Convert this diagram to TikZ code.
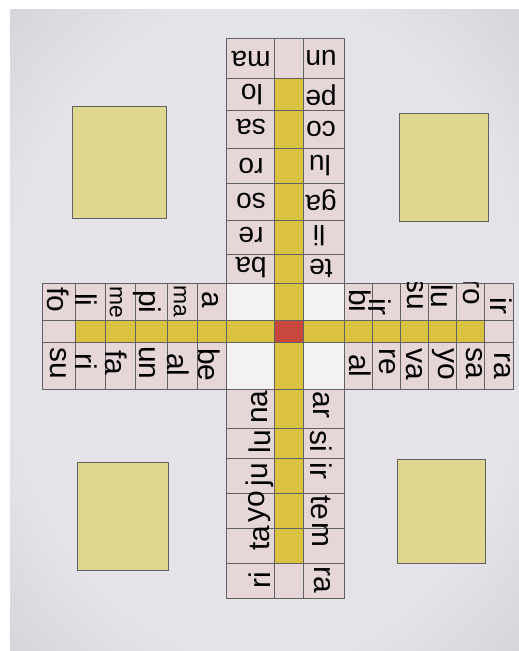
\documentclass[tikz,border=0pt]{standalone}
\usepackage{fontspec}
\setmainfont{Liberation Sans}
\definecolor{paperin}{RGB}{228,228,232}
\definecolor{paperout}{RGB}{192,192,196}
\definecolor{cellpink}{RGB}{231,214,216}
\definecolor{trackgold}{RGB}{218,194,64}
\definecolor{homeyellow}{RGB}{223,215,143}
\definecolor{startred}{RGB}{201,72,62}
\definecolor{blankcell}{RGB}{242,242,243}
\pgfdeclareradialshading{paperglow}{\pgfpoint{0bp}{0bp}}{color(0bp)=(paperin); color(26bp)=(paperin); color(50bp)=(paperout)}

\begin{document}
\begin{tikzpicture}[
				x=0.02cm, y=-0.02cm,
				font=\fontsize{17}{17}\selectfont,
				grid/.style={draw=black!62, line width=0.55pt},
				home/.style={grid, fill=homeyellow},
				syl/.style={inner sep=0pt},
				sylflip/.style={syl, rotate=180, font=\fontsize{16}{16}\selectfont},
				sylcw/.style={syl, rotate=-90},
				sylccw/.style={syl, rotate=90},
				sylsmall/.style={font=\fontsize{13}{13}\selectfont}
				]
				\useasboundingbox (0,0) rectangle (519,651);
				
				%--- paper -----------------------------------------------------------------
				\fill[white] (0,0) rectangle (519,651);
				\shade[shading=paperglow] (10,10) rectangle (519,651);
				
				%--- four home squares -----------------------------------------------------
				\draw[home] (72,106) rectangle (166,218);
				\draw[home] (399,113) rectangle (488,221);
				\draw[home] (77,462) rectangle (168,570);
				\draw[home] (397,459) rectangle (485,563);
				
				%--- fills of the cross ----------------------------------------------------
				\fill[cellpink] (226,38) rectangle (344,598);
				\fill[cellpink] (42,283) rectangle (513,389);
				\fill[blankcell] (226,283) rectangle (344,389);
				\fill[trackgold] (274,78) rectangle (303,563);
				\fill[trackgold] (75,320) rectangle (484,342);
				\fill[startred] (274,320) rectangle (303,342);
				
				%--- grid lines ------------------------------------------------------------
				\draw[grid] (226,38) rectangle (344,283)
				(274,38) -- (274,283) (303,38) -- (303,283)
				(226,78) -- (344,78) (226,110) -- (344,110) (226,148) -- (344,148)
				(226,183) -- (344,183) (226,220) -- (344,220) (226,254) -- (344,254);
				\draw[grid] (42,283) rectangle (513,389)
				(42,320) -- (513,320) (42,342) -- (513,342)
				(75,283) -- (75,389) (105,283) -- (105,389) (135,283) -- (135,389)
				(167,283) -- (167,389) (197,283) -- (197,389) (226,283) -- (226,389)
				(274,283) -- (274,389) (303,283) -- (303,389) (344,283) -- (344,389)
				(372,283) -- (372,389) (400,283) -- (400,389) (428,283) -- (428,389)
				(456,283) -- (456,389) (484,283) -- (484,389);
				\draw[grid] (226,389) rectangle (344,598)
				(274,389) -- (274,598) (303,389) -- (303,598)
				(226,428) -- (344,428) (226,458) -- (344,458) (226,493) -- (344,493)
				(226,528) -- (344,528) (226,563) -- (344,563);
				
				%--- north arm -------------------------------------------------------------
				\node[sylflip] (north-l1) at (251,59) {ma};
				\node[sylflip] (north-l2) at (252,95) {lo};
				\node[sylflip] (north-l3) at (251,127) {sa};
				\node[sylflip] (north-l4) at (251,166) {ro};
				\node[sylflip] (north-l5) at (251,201) {so};
				\node[sylflip] (north-l6) at (251,235) {re};
				\node[sylflip] (north-l7) at (251,268) {ba};
				\node[sylflip] (north-r1) at (321,58) {un};
				\node[sylflip] (north-r2) at (321,95) {pe};
				\node[sylflip] (north-r3) at (321,129) {co};
				\node[sylflip] (north-r4) at (320,166) {lu};
				\node[sylflip] (north-r5) at (321,200) {ga};
				\node[sylflip] (north-r6) at (319,236) {li};
				\node[sylflip] (north-r7) at (321,268) {te};
				
				%--- west arm --------------------------------------------------------------
				\node[sylcw] (west-t1) at (58,300) {fo};
				\node[sylcw] (west-t2) at (86,300) {li};
				\node[sylcw, sylsmall] (west-t3) at (116,302) {me};
				\node[sylcw] (west-t4) at (147,302) {pi};
				\node[sylcw, sylsmall] (west-t5) at (180,301) {ma};
				\node[sylcw] (west-t6) at (210,300) {a};
				\node[sylcw] (west-b1) at (58,363) {su};
				\node[sylcw] (west-b2) at (86,362) {ri};
				\node[sylcw] (west-b3) at (116,363) {fa};
				\node[sylcw] (west-b4) at (147,363) {un};
				\node[sylcw] (west-b5) at (178,365) {al};
				\node[sylcw] (west-b6) at (209,365) {be};
				
				%--- east arm (top row is cut at the edge) ---------------------------------
				\begin{scope}
					\clip (344,283) rectangle (513,389);
					\node[sylcw] (east-t1) at (360,301) {bi};
					\node[sylcw] (east-t2) at (380,307) {ir};
					\node[sylcw] (east-t3) at (415,294) {su};
					\node[sylcw] (east-t4) at (442,296) {lu};
					\node[sylcw] (east-t5) at (471,292) {ro};
					\node[sylcw] (east-t6) at (501,306) {ir};
				\end{scope}
				\node[sylcw] (east-b1) at (360,366) {al};
				\node[sylcw] (east-b2) at (387,362) {re};
				\node[sylcw] (east-b3) at (414,364) {va};
				\node[sylcw] (east-b4) at (443,364) {yo};
				\node[sylcw] (east-b5) at (474,363) {sa};
				\node[sylcw] (east-b6) at (502,366) {ra};
				
				%--- south arm -------------------------------------------------------------
				\node[sylccw] (south-l1) at (260,407) {na};
				\node[sylccw] (south-l2) at (260,442) {lu};
				\node[sylccw] (south-l3) at (260,475) {ju};
				\node[sylccw] (south-l4) at (260,507) {yo};
				\node[sylccw] (south-l5) at (260,538) {ta};
				\node[sylccw] (south-l6) at (260,580) {ri};
				\node[sylcw] (south-r1) at (321,405) {ar};
				\node[sylcw] (south-r2) at (321,441) {si};
				\node[sylcw] (south-r3) at (321,471) {ir};
				\node[sylcw] (south-r4) at (321,508) {te};
				\node[sylcw] (south-r5) at (321,535) {m};
				\node[sylcw] (south-r6) at (322,580) {ra};
			\end{tikzpicture}
\end{document}
